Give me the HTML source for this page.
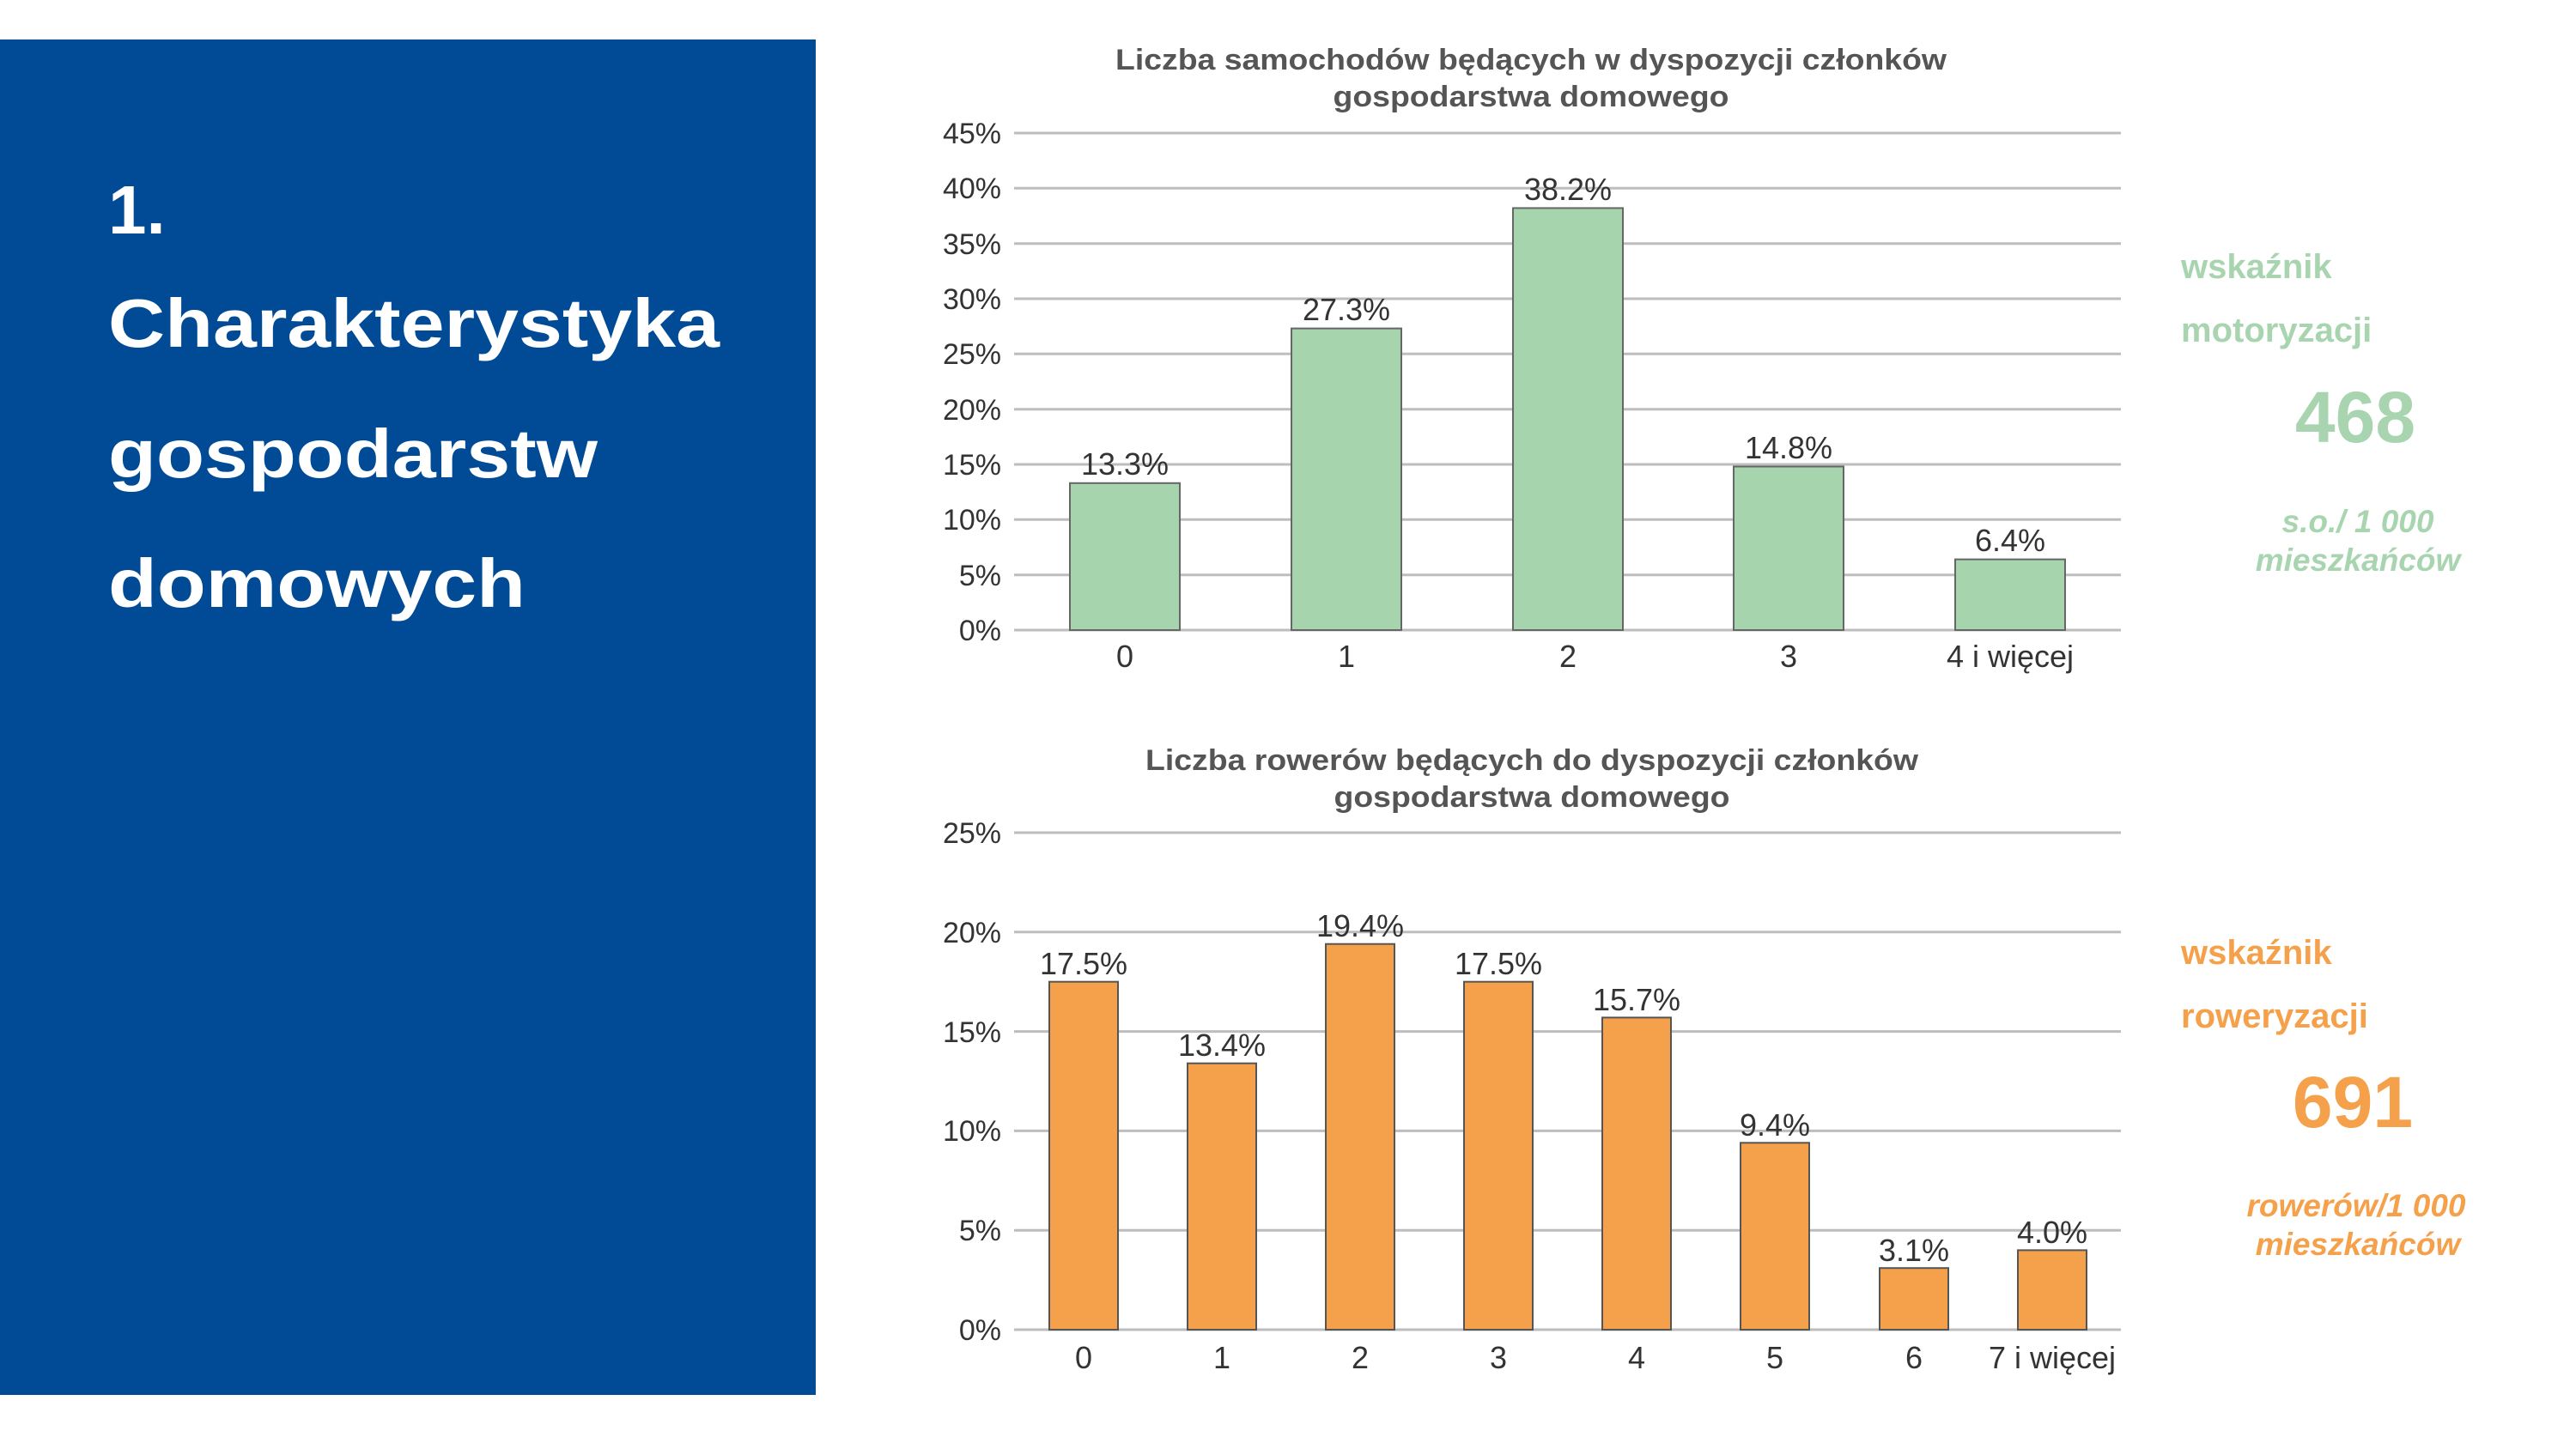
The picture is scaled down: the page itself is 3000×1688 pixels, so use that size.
<!DOCTYPE html>
<html><head><meta charset="utf-8"><style>
html,body{margin:0;padding:0;background:#fff;}
svg{display:block;}
text{font-family:"Liberation Sans",Arial,sans-serif;}
</style></head><body>
<svg width="3000" height="1688" viewBox="0 0 3000 1688" xmlns="http://www.w3.org/2000/svg">
<rect x="0" y="46" width="950" height="1579" fill="#004a96"/>
<g fill="#ffffff" font-weight="bold" font-size="80">
<text x="126" y="272">1.</text>
<text x="126" y="404" textLength="712" lengthAdjust="spacingAndGlyphs">Charakterystyka</text>
<text x="126" y="556" textLength="570" lengthAdjust="spacingAndGlyphs">gospodarstw</text>
<text x="126" y="707" textLength="486" lengthAdjust="spacingAndGlyphs">domowych</text>
</g>

<!-- top chart -->
<g fill="#555" font-weight="bold" font-size="34" text-anchor="middle">
<text x="1783" y="81" textLength="968" lengthAdjust="spacingAndGlyphs">Liczba samochodów będących w dyspozycji członków</text>
<text x="1783" y="124" textLength="461" lengthAdjust="spacingAndGlyphs">gospodarstwa domowego</text>
</g>
<g stroke="#bdbdbd" stroke-width="3">
<line x1="1181" x2="2470" y1="155" y2="155"/><line x1="1181" x2="2470" y1="219.3" y2="219.3"/>
<line x1="1181" x2="2470" y1="283.7" y2="283.7"/><line x1="1181" x2="2470" y1="348" y2="348"/>
<line x1="1181" x2="2470" y1="412.3" y2="412.3"/><line x1="1181" x2="2470" y1="476.7" y2="476.7"/>
<line x1="1181" x2="2470" y1="541" y2="541"/><line x1="1181" x2="2470" y1="605.3" y2="605.3"/>
<line x1="1181" x2="2470" y1="669.7" y2="669.7"/><line x1="1181" x2="2470" y1="734" y2="734"/>
</g>
<g fill="#333" font-size="34" text-anchor="end">
<text x="1166" y="167">45%</text><text x="1166" y="231">40%</text><text x="1166" y="296">35%</text>
<text x="1166" y="360">30%</text><text x="1166" y="424">25%</text><text x="1166" y="489">20%</text>
<text x="1166" y="553">15%</text><text x="1166" y="617">10%</text><text x="1166" y="682">5%</text>
<text x="1166" y="746">0%</text>
</g>
<g fill="#a6d4ad" stroke="#666" stroke-width="2">
<rect x="1246" y="562.8" width="128" height="171.2"/>
<rect x="1504" y="382.6" width="128" height="351.4"/>
<rect x="1762" y="242.4" width="128" height="491.6"/>
<rect x="2019" y="543.5" width="128" height="190.5"/>
<rect x="2277" y="651.6" width="128" height="82.4"/>
</g>
<g fill="#333" font-size="36" text-anchor="middle">
<text x="1310" y="553">13.3%</text><text x="1568" y="373">27.3%</text><text x="1826" y="233">38.2%</text>
<text x="2083" y="534">14.8%</text><text x="2341" y="642">6.4%</text>
<text x="1310" y="777">0</text><text x="1568" y="777">1</text><text x="1826" y="777">2</text>
<text x="2083" y="777">3</text><text x="2341" y="777">4 i więcej</text>
</g>

<!-- bottom chart -->
<g fill="#555" font-weight="bold" font-size="34" text-anchor="middle">
<text x="1784" y="897" textLength="900" lengthAdjust="spacingAndGlyphs">Liczba rowerów będących do dyspozycji członków</text>
<text x="1784" y="940" textLength="461" lengthAdjust="spacingAndGlyphs">gospodarstwa domowego</text>
</g>
<g stroke="#bdbdbd" stroke-width="3">
<line x1="1181" x2="2470" y1="970" y2="970"/><line x1="1181" x2="2470" y1="1085.8" y2="1085.8"/>
<line x1="1181" x2="2470" y1="1201.6" y2="1201.6"/><line x1="1181" x2="2470" y1="1317.4" y2="1317.4"/>
<line x1="1181" x2="2470" y1="1433.2" y2="1433.2"/><line x1="1181" x2="2470" y1="1549" y2="1549"/>
</g>
<g fill="#333" font-size="34" text-anchor="end">
<text x="1166" y="982">25%</text><text x="1166" y="1098">20%</text><text x="1166" y="1214">15%</text>
<text x="1166" y="1329">10%</text><text x="1166" y="1445">5%</text><text x="1166" y="1561">0%</text>
</g>
<g fill="#f5a04a" stroke="#555" stroke-width="2">
<rect x="1222" y="1143.7" width="80" height="405.3"/>
<rect x="1383" y="1238.7" width="80" height="310.3"/>
<rect x="1544" y="1099.7" width="80" height="449.3"/>
<rect x="1705" y="1143.7" width="80" height="405.3"/>
<rect x="1866" y="1185.4" width="80" height="363.6"/>
<rect x="2027" y="1331.3" width="80" height="217.7"/>
<rect x="2189" y="1477.2" width="80" height="71.8"/>
<rect x="2350" y="1456.4" width="80" height="92.6"/>
</g>
<g fill="#333" font-size="36" text-anchor="middle">
<text x="1262" y="1135">17.5%</text><text x="1423" y="1230">13.4%</text><text x="1584" y="1091">19.4%</text>
<text x="1745" y="1135">17.5%</text><text x="1906" y="1177">15.7%</text><text x="2067" y="1323">9.4%</text>
<text x="2229" y="1469">3.1%</text><text x="2390" y="1448">4.0%</text>
<text x="1262" y="1594">0</text><text x="1423" y="1594">1</text><text x="1584" y="1594">2</text>
<text x="1745" y="1594">3</text><text x="1906" y="1594">4</text><text x="2067" y="1594">5</text>
<text x="2229" y="1594">6</text><text x="2390" y="1594">7 i więcej</text>
</g>

<!-- right indicators -->
<g fill="#a8d5b0" font-weight="bold">
<text x="2540" y="324" font-size="40">wskaźnik</text>
<text x="2540" y="398" font-size="40">motoryzacji</text>
<text x="2743" y="515" font-size="84" text-anchor="middle">468</text>
<text x="2746" y="620" font-size="37" font-style="italic" text-anchor="middle">s.o./ 1 000</text>
<text x="2746" y="665" font-size="37" font-style="italic" text-anchor="middle">mieszkańców</text>
</g>
<g fill="#f5a04a" font-weight="bold">
<text x="2540" y="1123" font-size="40">wskaźnik</text>
<text x="2540" y="1197" font-size="40">roweryzacji</text>
<text x="2740" y="1313" font-size="84" text-anchor="middle">691</text>
<text x="2744" y="1417" font-size="37" font-style="italic" text-anchor="middle">rowerów/1 000</text>
<text x="2746" y="1462" font-size="37" font-style="italic" text-anchor="middle">mieszkańców</text>
</g>
</svg>
</body></html>
